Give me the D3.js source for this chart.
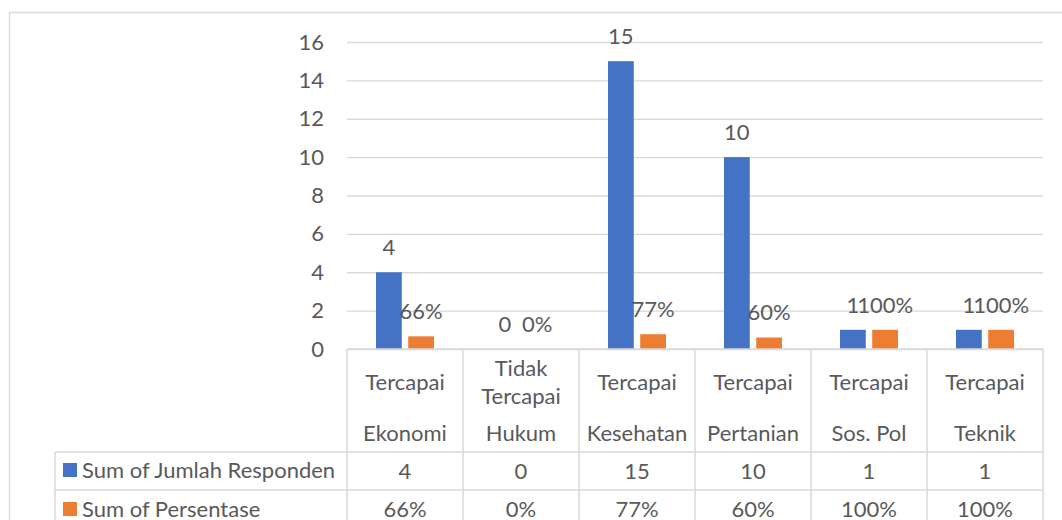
<!DOCTYPE html>
<html><head><meta charset="utf-8">
<script src="https://cdn.jsdelivr.net/npm/d3@7/dist/d3.min.js"></script>
<style>
html,body{margin:0;padding:0;background:#fff;}
svg{display:block;}
text{font-family:Lato,"Open Sans",sans-serif;fill:#595959;}
</style></head>
<body><svg id="chart" width="1062" height="520"></svg>
<script>
const outerCats = ["Ekonomi","Hukum","Kesehatan","Pertanian","Sos. Pol","Teknik"];
const innerCats = ["Tercapai","Tidak Tercapai","Tercapai","Tercapai","Tercapai","Tercapai"];
const seriesNames = ["Sum of Jumlah Responden","Sum of Persentase"];
const jumlah = [4,0,15,10,1,1];
const persentase = [0.66,0,0.77,0.60,1,1];
const yTicks = [0,2,4,6,8,10,12,14,16];
const colors = ["#4472C4","#ED7D31"];

const fmtN = d3.format("d"), fmtP = d3.format(".0%");
const svg = d3.select("#chart");
const grid = "#d9d9d9";
const FS = 22;

const plotL = 347, plotR = 1043, plotT = 42, plotB = 349;
const tableRow1 = 452, tableRow2 = 490, legendL = 55;

svg.append("rect").attr("x",9.5).attr("y",12.5).attr("width",1100).attr("height",600)
  .attr("fill","none").attr("stroke",grid).attr("stroke-width",1.5);

const y = d3.scaleLinear().domain([0,16]).range([plotB,plotT]);
const x0 = d3.scaleBand().domain(d3.range(outerCats.length)).range([plotL,plotR]).padding(0);
const x1 = d3.scaleBand().domain([0,1]).range([29,87]).paddingInner(0.2);

// gridlines + y axis
const yAxis = d3.axisLeft(y).tickValues(yTicks).tickSize(-(plotR-plotL)).tickPadding(23).tickFormat(fmtN);
const ga = svg.append("g").attr("transform",`translate(${plotL},0)`).call(yAxis);
ga.select(".domain").remove();
ga.selectAll(".tick line").attr("stroke",grid).attr("stroke-width",1.3);
ga.selectAll(".tick text").attr("font-size",FS).attr("fill","#595959").style("font-family","Lato");

// bars
const rows = outerCats.map((c,i)=>({i, vals:[jumlah[i],persentase[i]]}));
const g = svg.append("g");
rows.forEach(r=>{
  r.vals.forEach((v,s)=>{
    const bx = x0(r.i)+x1(s);
    g.append("rect").attr("x",bx).attr("width",x1.bandwidth())
      .attr("y",y(v)).attr("height",y(0)-y(v)).attr("fill",colors[s]);
    g.append("text").attr("x",bx+x1.bandwidth()/2).attr("y",y(v)-25).attr("dy","0.36em")
      .attr("text-anchor","middle").attr("font-size",FS).text(s===0?fmtN(v):fmtP(v));
  });
});

// table lines
const tl = svg.append("g").attr("stroke",grid).attr("stroke-width",1.5);
tl.append("line").attr("x1",plotL).attr("x2",plotR).attr("y1",plotB).attr("y2",plotB);
[tableRow1,tableRow2].forEach(yy=>tl.append("line").attr("x1",legendL).attr("x2",plotR).attr("y1",yy).attr("y2",yy));
d3.range(outerCats.length+1).forEach(k=>{
  const xx = k<outerCats.length ? x0(k) : plotR;
  tl.append("line").attr("x1",xx).attr("x2",xx).attr("y1",plotB).attr("y2",530);
});
tl.append("line").attr("x1",legendL).attr("x2",legendL).attr("y1",tableRow1).attr("y2",530);

// category labels
const tg = svg.append("g").attr("text-anchor","middle").attr("font-size",FS);
outerCats.forEach((c,i)=>{
  const cx = x0(i)+x0.bandwidth()/2;
  const words = innerCats[i].split(" ");
  if(words.length>1){
    tg.append("text").attr("x",cx).attr("y",368).attr("dy","0.36em").text(words[0]);
    tg.append("text").attr("x",cx).attr("y",396).attr("dy","0.36em").text(words.slice(1).join(" "));
  } else {
    tg.append("text").attr("x",cx).attr("y",382).attr("dy","0.36em").text(innerCats[i]);
  }
  tg.append("text").attr("x",cx).attr("y",433).attr("dy","0.36em").text(c);
  tg.append("text").attr("x",cx).attr("y",471).attr("dy","0.36em").text(fmtN(jumlah[i]));
  tg.append("text").attr("x",cx).attr("y",509).attr("dy","0.36em").text(fmtP(persentase[i]));
});

// legend
seriesNames.forEach((n,s)=>{
  const cy = s===0?470:509;
  svg.append("rect").attr("x",63).attr("y",cy-7).attr("width",14).attr("height",14).attr("fill",colors[s]);
  svg.append("text").attr("x",82).attr("y",cy).attr("dy","0.36em").attr("font-size",FS).text(n);
});
</script></body></html>
